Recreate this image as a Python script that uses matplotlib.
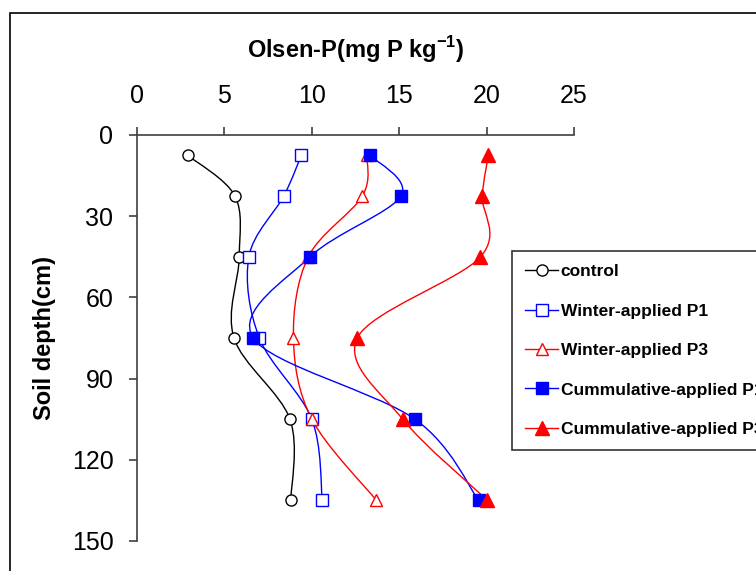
import numpy as np
import matplotlib
matplotlib.use('Agg')
import matplotlib.pyplot as plt
from matplotlib.path import Path
from matplotlib.patches import PathPatch, Rectangle
from matplotlib.lines import Line2D

plt.rcParams['font.family'] = ['Liberation Sans', 'DejaVu Sans']
plt.rcParams['mathtext.fontset'] = 'custom'
plt.rcParams['mathtext.rm'] = 'Liberation Sans'
plt.rcParams['mathtext.bf'] = 'Liberation Sans:bold'

depth = [7.5, 22.5, 45, 75, 105, 135]
control = [2.9, 5.6, 5.85, 5.55, 8.75, 8.8]
winter_p1 = [9.4, 8.4, 6.4, 7.0, 10.0, 10.6]
winter_p3 = [13.15, 12.9, 9.8, 8.95, 10.0, 13.7]
cum_p1 = [13.35, 15.1, 9.9, 6.65, 15.9, 19.55]
cum_p3 = [20.1, 19.75, 19.65, 12.6, 15.2, 20.05]

labels = ['control', 'Winter-applied P1', 'Winter-applied P3',
          'Cummulative-applied P1', 'Cummulative-applied P3']
series = [control, winter_p1, winter_p3, cum_p1, cum_p3]
styles = [
    dict(color='black', marker='o', mfc='white', ms=8),
    dict(color='#0000FF', marker='s', mfc='white', ms=8),
    dict(color='#FF0000', marker='^', mfc='white', ms=9),
    dict(color='#0000FF', marker='s', mfc='#0000FF', ms=9),
    dict(color='#FF0000', marker='^', mfc='#FF0000', ms=10),
]


def smooth_path(x, y):
    # excel-like smoothed line: catmull-rom as cubic bezier
    p = np.column_stack([x, y]).astype(float)
    ext = np.vstack([p[0], p, p[-1]])
    verts = [p[0]]
    codes = [Path.MOVETO]
    for i in range(len(p) - 1):
        p0, p1, p2, p3 = ext[i], ext[i + 1], ext[i + 2], ext[i + 3]
        verts += [p1 + (p2 - p0) / 6, p2 - (p3 - p1) / 6, p2]
        codes += [Path.CURVE4] * 3
    return Path(verts, codes)


fig = plt.figure(figsize=(7.56, 5.71), dpi=100)
ax = fig.add_axes([137 / 756, 1 - 541 / 571, 437 / 756, 406 / 571])

handles = []
for vals, st in zip(series, styles):
    ax.add_patch(PathPatch(smooth_path(vals, depth), fill=False,
                           edgecolor=st['color'], lw=1))
    ax.plot(vals, depth, ls='none', marker=st['marker'], ms=st['ms'],
            mfc=st['mfc'], mec=st['color'], mew=1, clip_on=False)
    handles.append(Line2D([], [], color=st['color'], lw=1,
                          marker=st['marker'], ms=st['ms'],
                          mfc=st['mfc'], mec=st['color']))

ax.set_xlim(0, 25)
ax.set_ylim(150, 0)
ax.set_xticks([0, 5, 10, 15, 20, 25])
ax.set_yticks([0, 30, 60, 90, 120, 150])
ax.xaxis.tick_top()
ax.xaxis.set_label_position('top')
for s in ['right', 'bottom']:
    ax.spines[s].set_visible(False)
for s in ['top', 'left']:
    ax.spines[s].set_color('#404040')
    ax.spines[s].set_linewidth(1.2)
ax.tick_params(axis='x', direction='out', length=5.5, width=1.2,
               color='#404040', pad=14, labelsize=18)
ax.tick_params(axis='y', direction='out', length=6, width=1.2,
               color='#404040', pad=11, labelsize=18)

ax.set_xlabel(r'Olsen-P(mg P kg$^{\mathbf{-1}}$)', fontsize=17,
              fontweight='bold', labelpad=19)
ax.set_ylabel('Soil depth(cm)', fontsize=17, fontweight='bold', labelpad=11)

leg = fig.legend(handles, labels, loc='upper left',
                 bbox_to_anchor=(512 / 756, 1 - 251 / 571),
                 frameon=True, fancybox=False, handlelength=1.9,
                 handletextpad=0.15, labelspacing=1.4, borderpad=0.75,
                 borderaxespad=0, prop=dict(weight='bold', size=12.5))
leg.get_frame().set_edgecolor('black')
leg.get_frame().set_linewidth(1.2)

fig.patches.append(Rectangle((10 / 756, -0.1), 1.2, 1 - 13 / 571 + 0.1,
                             transform=fig.transFigure, fill=False,
                             edgecolor='black', lw=1.2))

fig.savefig('out.png', dpi=100)
